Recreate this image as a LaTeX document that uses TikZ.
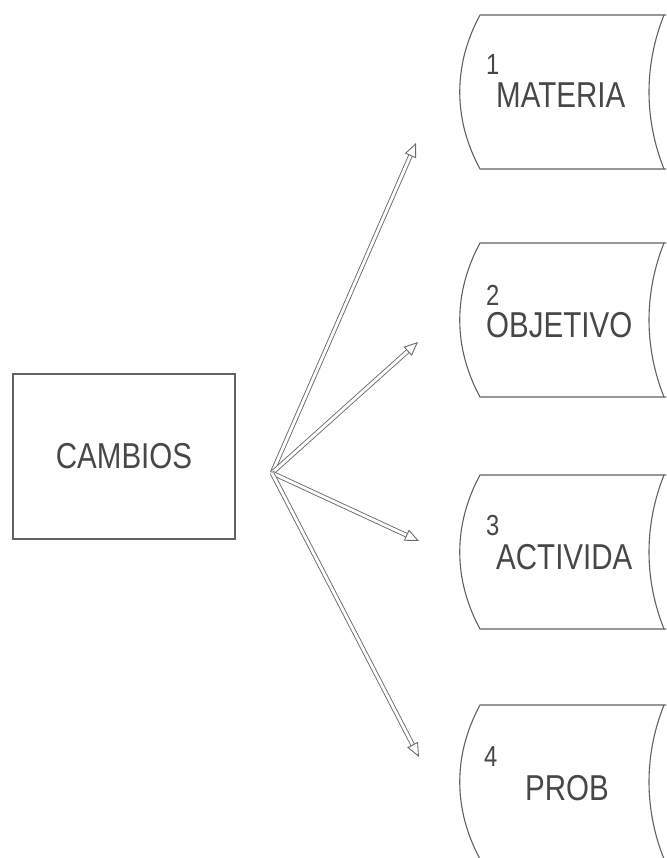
\documentclass[tikz,border=0pt]{standalone}
\usepackage{fontspec}
\newfontfamily\lab[FakeStretch=0.82]{Liberation Sans}
\usetikzlibrary{arrows.meta}
\begin{document}
\begin{tikzpicture}[x=1pt,y=-1pt,
  ink/.style={draw=black!62, line width=1.1pt},
  txt/.style={text=black!72, inner sep=0pt, font=\lab\fontsize{36}{36}\selectfont, anchor=base west},
  num/.style={text=black!72, inner sep=0pt, font=\lab\fontsize{29}{29}\selectfont, anchor=base west},
  conn/.style={draw=black!58, line width=0.9pt, double=white, double distance=2.8pt, -{Triangle[open,length=14pt,width=12pt]}},
]
\useasboundingbox (0,0) rectangle (666,858);
\clip (0,0) rectangle (666,858);

% central box
\node[ink, minimum width=222pt, minimum height=165pt, inner sep=0pt,
      text=black!72, font=\lab\fontsize{36}{36}\selectfont] (cambios) at (124,456.5) {CAMBIOS};

% stored-data blocks
\foreach \t/\n in {15/1,243/2,475/3,705/4} {
  \draw[ink] (666,\t) -- (480,\t) .. controls (453,\t+50) and (453,\t+104) .. (480,\t+154) -- (666,\t+154);
  \draw[ink] (664,\t) .. controls (644,\t+50) and (644,\t+104) .. (664,\t+154);
  \coordinate (blk\n) at (560,\t+77);
}

% labels
\node[num] (n1) at (486,75) {1};
\node[txt] (l1) at (496,108) {MATERIA};
\node[num] (n2) at (486,305) {2};
\node[txt] (l2) at (486,337) {OBJETIVO};
\node[num] (n3) at (486,535) {3};
\node[txt] (l3) at (496,569) {ACTIVIDA};
\node[num] (n4) at (484,766) {4};
\node[txt] (l4) at (525,800) {PROB};

% connectors
\coordinate (o) at (272,473);
\coordinate (t1) at (416,143);
\coordinate (t2) at (418,342);
\coordinate (t3) at (419,541);
\coordinate (t4) at (419,757);
\draw[conn] (o) -- (t1);
\draw[conn] (o) -- (t2);
\draw[conn] (o) -- (t3);
\draw[conn] (o) -- (t4);
\end{tikzpicture}
\end{document}
